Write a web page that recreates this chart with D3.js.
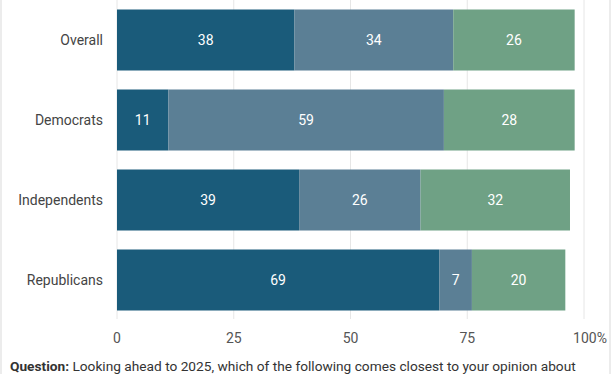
<!DOCTYPE html>
<html><head><meta charset="utf-8">
<script src="https://cdn.jsdelivr.net/npm/d3@7"></script>
<style>
html,body{margin:0;padding:0;background:#fff;}
svg{display:block;font-family:Roboto, "Noto Sans", sans-serif;}
</style></head>
<body>
<svg id="chart" width="612" height="374"></svg>
<script>
const categories = ["Overall", "Democrats", "Independents", "Republicans"];
const seriesNames = ["s1", "s2", "s3"];
const s1 = [38, 11, 39, 69];
const s2 = [34, 59, 26, 7];
const s3 = [26, 28, 32, 20];
const colors = ["#1a5b7a", "#5b7f95", "#6fa185"];
const ticks = [0, 25, 50, 75, 100];

const svg = d3.select("#chart");
const x = d3.scaleLinear().domain([0, 100]).range([117, 584]);
const y = d3.scaleBand().domain(categories).range([9.5, 310.5]).paddingInner(0.2375).paddingOuter(0);

// frame lines
svg.append("line").attr("x1",1).attr("x2",1).attr("y1",0).attr("y2",374).attr("stroke","#ececec").attr("stroke-width",2);
svg.append("line").attr("x1",610).attr("x2",610).attr("y1",0).attr("y2",374).attr("stroke","#ececec").attr("stroke-width",2);

// grid
svg.append("g").selectAll("line").data(ticks).join("line")
  .attr("x1", d => x(d)).attr("x2", d => x(d))
  .attr("y1", 0).attr("y2", 319)
  .attr("stroke", "#e6e6e6").attr("stroke-width", 1);

const rows = categories.map((c, i) => ({cat: c, vals: [s1[i], s2[i], s3[i]]}));
const segs = [];
rows.forEach(r => {
  let acc = 0;
  r.vals.forEach((v, j) => { segs.push({cat: r.cat, j, v, x0: acc, x1: acc + v}); acc += v; });
});

svg.append("g").selectAll("rect").data(segs).join("rect")
  .attr("x", d => x(d.x0)).attr("width", d => x(d.x1) - x(d.x0))
  .attr("y", d => y(d.cat)).attr("height", y.bandwidth())
  .attr("fill", d => colors[d.j]);

svg.append("g").selectAll("text").data(segs).join("text")
  .attr("x", d => (x(d.x0) + x(d.x1)) / 2)
  .attr("y", d => y(d.cat) + y.bandwidth() / 2)
  .attr("dy", "0.35em").attr("text-anchor", "middle")
  .attr("fill", "#fff").attr("font-size", 14)
  .text(d => d.v);

// category labels
svg.append("g").selectAll("text").data(categories).join("text")
  .attr("x", 103).attr("y", d => y(d) + y.bandwidth() / 2)
  .attr("dy", "0.35em").attr("text-anchor", "end")
  .attr("fill", "#444").attr("font-size", 14)
  .text(d => d);

// x tick labels
svg.append("g").selectAll("text").data(ticks).join("text")
  .attr("x", d => x(d) + (d === 100 ? 6 : 0)).attr("y", 338)
  .attr("dy", "0.35em").attr("text-anchor", "middle")
  .attr("fill", "#555").attr("font-size", 14)
  .text(d => d === 100 ? "100%" : d);

// question
const q = svg.append("text").attr("x", 10).attr("y", 370.5).attr("font-size", 13.7).attr("fill", "#333");
q.append("tspan").attr("font-weight", "bold").text("Question:");
q.append("tspan").text(" Looking ahead to 2025, which of the following comes closest to your opinion about");
</script>
</body></html>
